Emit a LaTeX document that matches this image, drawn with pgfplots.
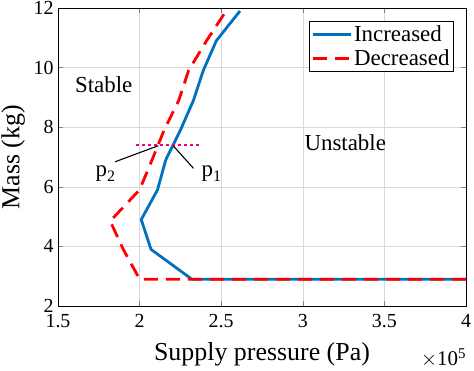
\documentclass[border=0pt]{standalone}
\usepackage{pgfplots}
\pgfplotsset{compat=1.18}
\usepackage{fontspec}
\setmainfont{Liberation Serif}
\definecolor{mblue}{rgb}{0,0.447,0.741}
\newcommand{\sub}[1]{\raisebox{-0.45ex}{\fontsize{16}{17}\selectfont #1}}
\begin{document}
\begin{tikzpicture}
\begin{axis}[
  scale only axis, width=408bp, height=298bp,
  xmin=1.5, xmax=4, ymin=2, ymax=12,
  xtick={1.5,2,2.5,3,3.5,4}, ytick={2,4,6,8,10,12},
  xticklabels={1.5,2,2.5,3,3.5,4},
  /pgf/number format/assume math mode=true,
  tick label style={font=\fontsize{20}{22}\selectfont},
  xticklabel style={yshift=-5bp},
  yticklabel style={xshift=-1bp},
  xlabel={Supply pressure (Pa)}, ylabel={Mass (kg)},
  every axis x label/.style={at={(axis description cs:0.5,-0.163)}, anchor=center, font=\fontsize{26}{28}\selectfont},
  every axis y label/.style={at={(axis description cs:-0.11,0.5)}, rotate=90, anchor=center, font=\fontsize{26}{28}\selectfont},
  grid=major, major grid style={gray!30, line width=0.5pt},
  tick align=inside, major tick length=5bp,
  axis line style={line width=0.6pt},
  legend style={at={(0.97,0.955)}, anchor=north east, font=\fontsize{23}{24}\selectfont, draw=black, line width=0.6pt, inner sep=2bp, row sep=3bp},
  legend cell align=left,
  legend image code/.code={\draw[#1, line width=2.8bp] (0bp,0bp) -- (38bp,0bp);},
]
\addplot[mblue, line width=2.8bp] coordinates {
(4,2.9) (2.32,2.9) (2.07,3.9) (2.01,4.9) (2.11,5.9) (2.16,6.9) (2.25,7.9) (2.33,8.9) (2.39,9.9) (2.47,10.9) (2.615,11.9)};
\addlegendentry{Increased}
\addplot[red, line width=2.8bp, dash pattern=on 14bp off 8bp] coordinates {
(4,2.9) (2.0,2.9) (1.90,3.9) (1.82,4.85) (2.0,5.9) (2.076,6.9) (2.15,7.9) (2.24,8.9) (2.30,9.9) (2.41,10.9) (2.53,11.9)};
\addlegendentry{Decreased}
\addplot[magenta, line width=2.2bp, dash pattern=on 3bp off 3bp, forget plot] coordinates {(1.98,7.4) (2.37,7.4)};
\addplot[black, line width=1.1bp, forget plot] coordinates {(2.207,7.37) (2.33,6.62)};
\addplot[black, line width=1.1bp, forget plot] coordinates {(2.115,7.38) (1.85,6.84)};
\node[font=\fontsize{23}{25}\selectfont] at (axis cs:2.44,6.45) {p\sub{1}};
\node[font=\fontsize{23}{25}\selectfont] at (axis cs:1.79,6.45) {p\sub{2}};
\node[font=\fontsize{23}{25}\selectfont] at (axis cs:1.78,9.42) {Stable};
\node[font=\fontsize{23}{25}\selectfont] at (axis cs:3.26,7.47) {Unstable};
\end{axis}
\node[font=\fontsize{21}{22}\selectfont, anchor=east] at (411bp,-52bp) {$\times$10\raisebox{0.8ex}{\fontsize{15}{16}\selectfont 5}};
\pgfresetboundingbox
\useasboundingbox (-58bp,-65bp) rectangle (416bp,306bp);
\end{tikzpicture}
\end{document}
